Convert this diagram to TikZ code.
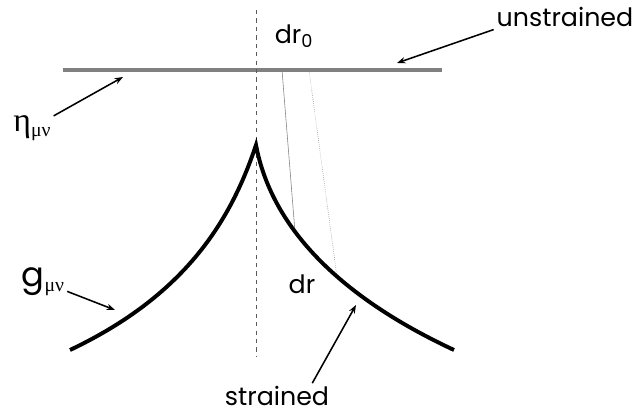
\documentclass[tikz,border=0pt]{standalone}
\usepackage{fontspec}
\setmainfont{Poppins}
\newfontfamily\grk{Liberation Serif}
\usepackage{tikz}
\usetikzlibrary{arrows.meta}

\begin{document}
\begin{tikzpicture}[>={Stealth[length=6pt, width=4.5pt]}, every node/.style={font=\fontsize{18}{21}\selectfont, inner sep=2pt},
    metric/.style={line width=2.8pt, line join=miter},
    pointer/.style={->, line width=1.1pt}]
        \useasboundingbox (0,0) rectangle (15.925,10.4);

        % 坐标
        \coordinate (flatL) at (1.575,8.65);
        \coordinate (flatR) at (11.05,8.65);
        \coordinate (axisT) at (6.4,10.15);
        \coordinate (axisB) at (6.4,1.475);
        \coordinate (gL) at (1.75,1.65);
        \coordinate (tip) at (6.4,6.775);
        \coordinate (gR) at (11.35,1.65);
        \coordinate (a0) at (7.05,8.65);
        \coordinate (a1) at (7.375,4.6);
        \coordinate (b0) at (7.725,8.65);
        \coordinate (b1) at (8.425,3.475);

        % 曲线
        \draw[gray, line width=2.8pt] (flatL) -- (flatR);
        \draw[gray!70!black, dashed, line width=0.7pt] (axisT) -- (axisB);
        \draw[gray, line width=0.4pt] (a0) -- (a1);
        \draw[gray, line width=0.4pt, densely dotted] (b0) -- (b1);
        \draw[metric] (gL) .. controls (4.65,3.025) and (5.775,4.9) .. (tip)
            .. controls (6.775,4.775) and (8.4,3.025) .. (gR);

        % 标签
        \node (dr0) at (7.35,9.5) {dr\textsubscript{0}};
        \node (unstr) at (14.125,9.975) {unstrained};
        \node (eta) at (0.8,7.2) {{\grk\fontsize{24}{28}\selectfont η}\raisebox{-0.35ex}{\grk\fontsize{14}{16}\selectfont μν}};
        \node (gmn) at (1.075,3.35) {{\fontsize{24}{28}\selectfont g}\raisebox{-0.35ex}{\grk\fontsize{14}{16}\selectfont μν}};
        \node (dr) at (7.55,3.3) {dr};
        \node (str) at (6.925,0.5) {strained};

        % 箭头
        \coordinate (unstrhead) at (9.925,8.825);
        \coordinate (etahead) at (3.075,8.475);
        \coordinate (ghead) at (2.875,2.65);
        \coordinate (strhead) at (8.9,2.775);
        \draw[pointer] (unstr.190) -- (unstrhead);
        \draw[pointer] (eta) -- (etahead);
        \draw[pointer] (gmn) -- (ghead);
        \draw[pointer] (str.20) -- (strhead);
    \end{tikzpicture}
\end{document}
